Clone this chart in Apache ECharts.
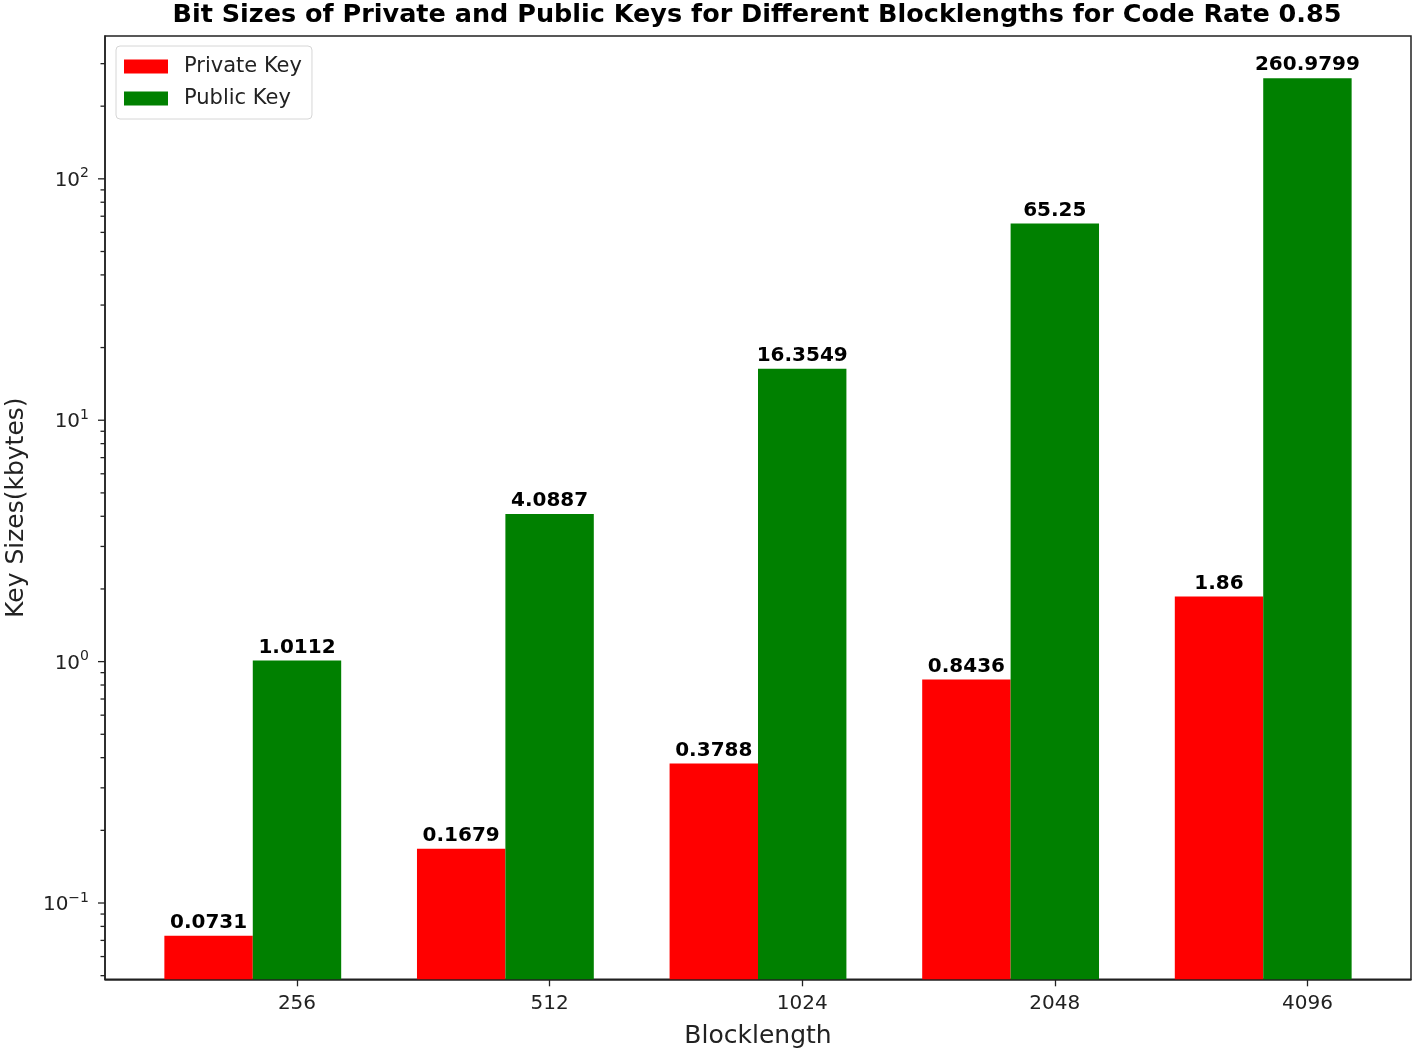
<!DOCTYPE html>
<html>
<head>
<meta charset="utf-8">
<script src="https://cdn.jsdelivr.net/npm/echarts@6/dist/echarts.min.js"></script>
<style>html,body{margin:0;padding:0;background:#fff;}#c{width:1416px;height:1055px;}</style>
</head>
<body>
<div id="c"></div>
<script>
// ---- data ----
const blocklengths = ['256', '512', '1024', '2048', '4096'];
const privateKey = [0.0731, 0.1679, 0.3788, 0.8436, 1.86];
const publicKey = [1.0112, 4.0887, 16.3549, 65.25, 260.9799];
const yMinorTicks = [0.05, 0.06, 0.07, 0.08, 0.09,
  0.2, 0.3, 0.4, 0.5, 0.6, 0.7, 0.8, 0.9,
  2, 3, 4, 5, 6, 7, 8, 9,
  20, 30, 40, 50, 60, 70, 80, 90,
  200, 300];
const yMajorTicks = [0.1, 1, 10, 100];
const xTickPositions = [0, 1, 2, 3, 4];

// ---- layout ----
const BAR_W = 0.35;            // bar width in x units
const X_MIN = -0.76, X_MAX = 4.41;
const Y_MIN = 0.0483, Y_MAX = 390.6;
const FONT = 'DejaVu Sans';

const chart = echarts.init(document.getElementById('c'));
const gridLeft = 105, gridRight = 5;
const pxPerUnit = (1416 - gridLeft - gridRight) / (X_MAX - X_MIN);
const barPx = BAR_W * pxPerUnit;

function supLabel(v) {
  const e = Math.round(Math.log10(v));
  return '{b|10}{s|' + String(e).replace('-', '\u2212') + '}';
}

const tickData = yMinorTicks.map(v => [0, v, 0]).concat(yMajorTicks.map(v => [0, v, 1]));

chart.setOption({
  animation: false,
  backgroundColor: '#fff',
  title: {
    text: 'Bit Sizes of Private and Public Keys for Different Blocklengths for Code Rate 0.85',
    left: 752, top: -3, textAlign: 'center',
    textStyle: { fontFamily: FONT, fontSize: 25.5, fontWeight: 'bold', color: '#000' }
  },
  legend: {
    data: ['Private Key', 'Public Key'],
    orient: 'vertical', left: 116, top: 46,
    padding: [10, 10, 10, 8], itemGap: 11,
    icon: 'rect', itemWidth: 44, itemHeight: 14,
    borderColor: '#d6d6d6', borderWidth: 1, borderRadius: 4,
    textStyle: { fontFamily: FONT, fontSize: 21, color: '#222', padding: [0, 0, 0, 11] }
  },
  grid: { left: gridLeft, right: gridRight, top: 36, bottom: 75.7, show: true,
    borderColor: '#222', borderWidth: 1.5, outerBoundsMode: 'none', containLabel: false },
  xAxis: {
    type: 'value', min: X_MIN, max: X_MAX,
    name: 'Blocklength', nameLocation: 'middle', nameGap: 45,
    nameTextStyle: { fontFamily: FONT, fontSize: 25, color: '#222' },
    splitLine: { show: false },
    axisLine: { show: true, onZero: false, lineStyle: { color: '#222', width: 1.5 } },
    axisTick: { show: true, length: 7, customValues: xTickPositions, lineStyle: { color: '#222', width: 1.3 } },
    axisLabel: {
      customValues: xTickPositions, margin: 14,
      fontFamily: FONT, fontSize: 20, color: '#222',
      formatter: v => blocklengths[Math.round(v)] || ''
    }
  },
  yAxis: {
    type: 'log', logBase: 10, min: Y_MIN, max: Y_MAX, startValue: Y_MIN,
    name: 'Key Sizes(kbytes)', nameLocation: 'middle', nameGap: 76,
    nameTextStyle: { fontFamily: FONT, fontSize: 25, color: '#222' },
    splitLine: { show: false },
    axisLine: { show: true, onZero: false, lineStyle: { color: '#222', width: 1.5 } },
    axisTick: { show: false },
    axisLabel: {
      margin: 16, showMinLabel: false, showMaxLabel: false,
      formatter: v => {
        const l = Math.log10(v);
        return Math.abs(l - Math.round(l)) < 1e-6 ? supLabel(v) : '';
      },
      rich: {
        b: { fontFamily: FONT, fontSize: 20, color: '#222', lineHeight: 24, verticalAlign: 'bottom' },
        s: { fontFamily: FONT, fontSize: 14, color: '#222', lineHeight: 24, verticalAlign: 'top' }
      }
    }
  },
  series: [
    {
      name: 'Private Key', type: 'bar', barWidth: barPx, barGap: '-100%',
      itemStyle: { color: '#ff0000' },
      data: privateKey.map((v, i) => [xTickPositions[i] - BAR_W, v]),
      label: {
        show: true, position: 'top', distance: 3,
        fontFamily: FONT, fontSize: 20, fontWeight: 'bold', color: '#000',
        formatter: p => String(p.value[1])
      }
    },
    {
      name: 'Public Key', type: 'bar', barWidth: barPx, barGap: '-100%',
      itemStyle: { color: '#008000' },
      data: publicKey.map((v, i) => [xTickPositions[i], v]),
      label: {
        show: true, position: 'top', distance: 3,
        fontFamily: FONT, fontSize: 20, fontWeight: 'bold', color: '#000',
        formatter: p => String(p.value[1])
      }
    },
    {
      type: 'custom', silent: true, clip: false, z: 5,
      data: tickData,
      renderItem: (params, api) => {
        const y = api.coord([api.value(0), api.value(1)])[1];
        const x0 = params.coordSys.x;
        const len = api.value(2) ? 7 : 4.5;
        return { type: 'line', shape: { x1: x0 - len, y1: y, x2: x0, y2: y },
          style: { stroke: '#222', lineWidth: 1.3 } };
      }
    }
  ]
});
</script>
</body>
</html>
